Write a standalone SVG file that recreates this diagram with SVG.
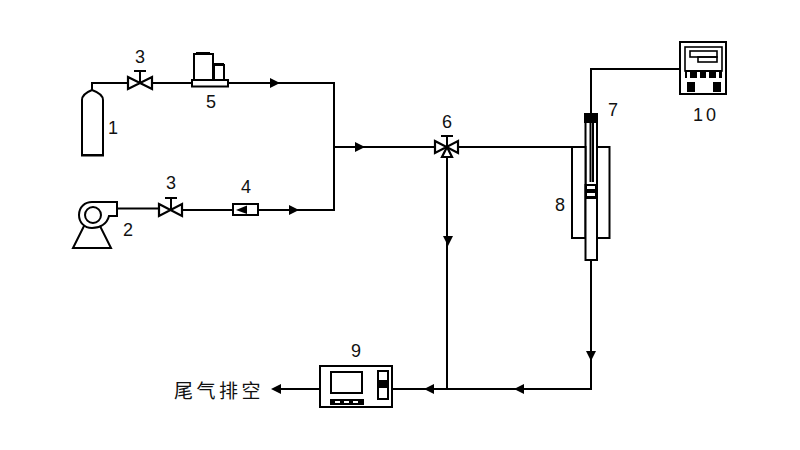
<svg xmlns="http://www.w3.org/2000/svg" width="800" height="450" viewBox="0 0 800 450">
<style>
.l{fill:none;stroke:#000;stroke-width:2}
.t{fill:none;stroke:#000;stroke-width:1.600}
.w{fill:#fff;stroke:#000;stroke-width:2}
.v{fill:#fff;stroke:#000;stroke-width:2.200;stroke-linejoin:miter}
.k{fill:#000;stroke:none}
text{font-family:"Liberation Sans",Arial,"Noto Sans CJK SC",sans-serif;font-size:18px;fill:#111;text-anchor:middle}
</style>
<defs>
<polygon id="ar" class="k" points="-5,-5 5,0 -5,5"/>
</defs>
<rect width="800" height="450" fill="#fff"/>
<g id="connectors">
<path class="l" d="M92 90V83H128M152 83H192M228 83H334V210H258M233 210H182M158 208.500H115"/>
<path class="l" d="M334 147H435M459 147H571"/>
<path class="l" d="M447 156V390M591 260V389H392M320 389H278"/>
<path class="l" d="M591 114V69H679"/>
<use href="#ar" x="275" y="83"/>
<use href="#ar" x="294" y="210"/>
<use href="#ar" x="360" y="147"/>
<use href="#ar" transform="translate(448 241) rotate(90)"/>
<use href="#ar" transform="translate(591 356) rotate(90)"/>
<use href="#ar" transform="translate(519 389) rotate(180)"/>
<use href="#ar" transform="translate(429 389) rotate(180)"/>
<use href="#ar" transform="translate(276 389) rotate(180)"/>
</g>
<g id="n1">
<path class="w" d="M82 155V100Q82 94 92 90Q103 94 103 100V155Z"/>
<path class="l" d="M81 155.500H104"/>
<text x="113" y="134">1</text>
</g>
<g id="n2">
<path class="w" d="M73 248L85 224H99L111 248Z"/>
<path class="w" d="M117 202V216H109C107 224 100 228 92 228C84 228 79 222 79 215C79 207 85 202 92 202Z"/>
<circle class="w" cx="93" cy="215" r="8"/>
<text x="128" y="236">2</text>
</g>
<g id="n3a">
<path class="v" d="M128 77L152 89V77L128 89Z"/>
<path class="l" d="M140 83V71M134 71H146"/>
<text x="140" y="63">3</text>
</g>
<g id="n3b">
<path class="v" d="M159 204L182 216V204L159 216Z"/>
<path class="l" d="M171 210V198M165 198H177"/>
<text x="171" y="189">3</text>
</g>
<g id="n4">
<rect class="w" x="233" y="204" width="25" height="11"/>
<polygon class="k" points="236,210 247,205.500 247,214"/>
<text x="246" y="193">4</text>
</g>
<g id="n5">
<rect class="w" x="192" y="80" width="36" height="6.500"/>
<rect class="w" x="194" y="54" width="19" height="26"/>
<path class="l" d="M196 53H210" stroke-width="3"/>
<rect class="w" x="214" y="65" width="10" height="15"/>
<path class="l" d="M214 64H224"/>
<text x="211" y="108">5</text>
</g>
<g id="n6">
<path class="v" d="M435 141L458 153V141L435 153Z"/>
<path class="v" d="M447 147L442 157H452Z"/>
<path class="l" d="M447 147V136M441 136H453"/>
<text x="447" y="128">6</text>
</g>
<g id="n7">
<path class="l" d="M585.500 120V185M597 120V185M590.500 120V182M593 120V182"/>
<rect class="k" x="584" y="113" width="14" height="10"/>
<text x="613" y="116">7</text>
</g>
<g id="n8">
<rect class="w" x="572" y="147" width="13.500" height="91"/>
<rect class="w" x="597" y="147" width="12.500" height="91"/>
<rect class="w" x="585.500" y="185" width="11.500" height="75"/>
<rect class="k" x="585" y="184" width="13" height="15"/>
<rect x="587" y="186" width="8" height="3" fill="#fff"/>
<rect x="587" y="193" width="8" height="3" fill="#fff"/>
<text x="560" y="211">8</text>
</g>
<g id="n9">
<rect class="w" x="320" y="366" width="72" height="41"/>
<rect class="w" x="331" y="372" width="31" height="21"/>
<rect class="k" x="330" y="399" width="34" height="6"/>
<rect x="335" y="401" width="5" height="2" fill="#fff"/>
<rect x="344" y="401" width="5" height="2" fill="#fff"/>
<rect x="353" y="401" width="5" height="2" fill="#fff"/>
<rect class="w" x="378" y="371" width="10" height="28"/>
<rect class="k" x="378" y="380" width="10" height="8"/>
<text x="356" y="357">9</text>
</g>
<g id="n10">
<rect class="w" x="680" y="42" width="46" height="52"/>
<rect class="t" x="685" y="47" width="37" height="24"/>
<rect class="t" x="690" y="51" width="27" height="6"/>
<rect class="t" x="698" y="57" width="19" height="5"/>
<rect class="k" x="685" y="70" width="37" height="8"/>
<rect x="687" y="72" width="3" height="6" fill="#fff"/>
<rect x="697" y="72" width="3" height="6" fill="#fff"/>
<rect x="706" y="72" width="3" height="6" fill="#fff"/>
<rect x="716" y="72" width="3" height="6" fill="#fff"/>
<rect class="k" x="687" y="82" width="8" height="10"/>
<rect class="k" x="713" y="82" width="8" height="10"/>
<text x="706" y="121" letter-spacing="3">10</text>
</g>
<text x="219" y="398" style="font-size:19px;font-family:'Noto Sans CJK SC',sans-serif" letter-spacing="3.500">尾气排空</text>
</svg>
